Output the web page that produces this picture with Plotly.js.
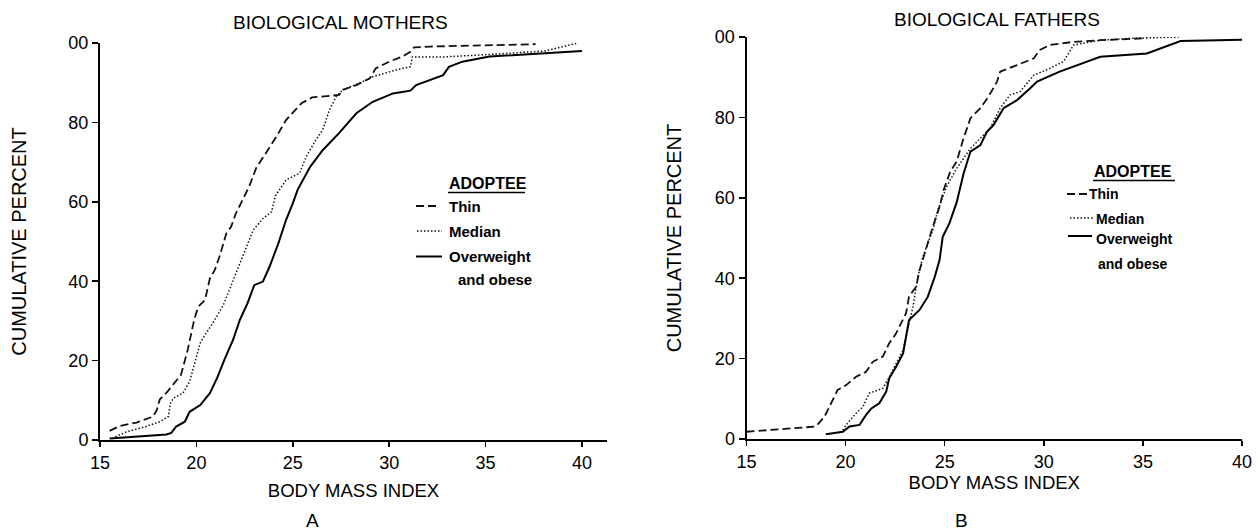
<!DOCTYPE html>
<html>
<head>
<meta charset="utf-8">
<script src="https://cdn.plot.ly/plotly-3.0.1.min.js"></script>
<style>html,body{margin:0;padding:0;background:#fff;}#chart{width:1260px;height:532px;}</style>
</head>
<body>
<div id="chart"></div>
<script>
// ---- Data ----
// Panel A: Biological mothers, cumulative percent by BMI
const mothersThinBMI = [15.5, 16.0, 16.9, 17.75, 17.95, 18.1, 18.5, 19.2, 19.55, 19.9, 20.1, 20.45, 20.7, 20.95, 21.2, 21.55, 21.8, 22.05, 22.4, 22.75, 23.1, 23.6, 24.15, 24.65, 25.0, 25.45, 26.0, 27.4, 27.6, 28.3, 29.0, 29.3, 30.0, 30.7, 31.1, 31.3, 32.1, 37.6];
const mothersThinPct = [2.3, 3.5, 4.4, 5.9, 7.6, 10.2, 12.2, 16.4, 22.7, 30.6, 33.6, 35.3, 40.7, 42.8, 46.2, 52.0, 53.7, 57.1, 60.5, 64.0, 68.5, 72.2, 76.4, 80.6, 82.5, 84.8, 86.3, 86.9, 88.2, 89.4, 91.1, 93.6, 95.3, 96.6, 97.8, 98.9, 99.1, 99.7];

const mothersMedianBMI = [15.8, 16.4, 17.25, 18.1, 18.55, 18.65, 18.8, 19.3, 19.65, 19.9, 20.2, 20.5, 20.85, 21.4, 21.9, 22.4, 22.95, 23.45, 23.9, 24.1, 24.65, 25.35, 25.7, 26.2, 26.55, 26.9, 27.25, 27.6, 28.6, 29.15, 30.35, 31.1, 31.2, 32.9, 35.5, 38.1, 39.7];
const mothersMedianPct = [0.8, 2.1, 3.2, 4.6, 5.9, 9.2, 10.5, 11.8, 14.7, 19.3, 24.4, 26.9, 29.4, 34.0, 40.3, 46.2, 52.9, 55.8, 57.5, 61.5, 65.5, 67.2, 71.4, 75.6, 78.1, 83.1, 86.5, 88.2, 90.2, 91.5, 93.2, 94.0, 96.5, 96.5, 97.2, 98.0, 99.9];

const mothersOverBMI = [15.5, 16.7, 18.45, 18.7, 18.95, 19.4, 19.65, 20.2, 20.7, 21.1, 21.45, 21.9, 22.25, 22.65, 23.0, 23.45, 23.8, 24.25, 24.65, 25.0, 25.25, 25.9, 26.55, 27.4, 28.3, 29.15, 30.2, 31.1, 31.4, 32.8, 33.1, 33.8, 35.2, 40.0];
const mothersOverPct = [0.4, 0.8, 1.4, 1.8, 3.4, 4.6, 7.1, 8.8, 11.8, 15.9, 20.2, 25.2, 30.2, 34.4, 39.0, 39.9, 43.7, 49.5, 55.4, 59.6, 63.0, 68.8, 73.0, 77.3, 82.3, 85.2, 87.3, 88.0, 89.4, 91.9, 94.0, 95.3, 96.6, 98.0];

// Panel B: Biological fathers
const fathersThinBMI = [15.0, 18.5, 18.93, 19.27, 19.6, 20.03, 20.53, 21.03, 21.37, 21.88, 22.2, 22.55, 23.05, 23.2, 23.56, 23.73, 24.07, 24.4, 24.74, 24.95, 25.28, 25.6, 25.95, 26.3, 26.8, 27.2, 27.64, 27.8, 28.65, 29.5, 29.8, 30.3, 31.5, 32.85, 35.2];
const fathersThinPct = [1.8, 3.1, 5.5, 8.9, 12.2, 13.4, 15.5, 16.7, 19.2, 20.5, 23.8, 26.3, 31.3, 35.4, 37.9, 42.0, 47.8, 52.8, 57.8, 62.0, 66.5, 69.0, 74.8, 79.8, 82.3, 85.1, 88.9, 91.4, 93.0, 94.7, 96.8, 98.0, 98.8, 99.2, 99.7];

const fathersMedianBMI = [19.86, 20.03, 20.53, 20.87, 21.2, 21.88, 22.13, 22.46, 22.9, 23.2, 23.4, 23.65, 23.9, 24.15, 24.4, 24.66, 25.08, 25.6, 26.3, 26.8, 27.3, 27.8, 28.3, 28.8, 29.5, 30.3, 31.0, 31.5, 32.85, 34.5, 36.9];
const fathersMedianPct = [2.2, 3.5, 6.4, 8.0, 11.4, 12.6, 14.7, 18.0, 22.1, 28.8, 32.9, 40.4, 45.3, 48.7, 52.0, 57.0, 62.6, 67.3, 72.3, 74.8, 77.3, 82.3, 85.6, 86.4, 90.5, 92.2, 93.9, 98.0, 99.2, 99.7, 100];

const fathersOverBMI = [19.0, 19.86, 20.2, 20.7, 21.03, 21.3, 21.7, 22.05, 22.2, 22.55, 22.9, 23.2, 23.73, 24.15, 24.5, 24.74, 24.9, 25.24, 25.6, 25.95, 26.3, 26.8, 27.13, 27.46, 27.97, 28.65, 29.3, 29.66, 30.8, 32.85, 35.2, 36.9, 40.0];
const fathersOverPct = [1.2, 1.8, 3.1, 3.5, 6.0, 7.6, 8.9, 11.8, 15.1, 18.0, 21.3, 29.6, 32.1, 35.4, 40.4, 44.5, 50.3, 53.7, 58.8, 66.0, 71.5, 73.1, 76.4, 78.1, 82.3, 84.3, 87.2, 88.9, 91.4, 95.1, 95.9, 99.0, 99.3];

// Tick labels
const xTickVals = [15, 20, 25, 30, 35, 40];
const xTickText = ['15', '20', '25', '30', '35', '40'];
const yTickVals = [0, 20, 40, 60, 80, 100];
const yTickText = ['0', '20', '40', '60', '80', '00'];

// Texts
const panelTitles = ['BIOLOGICAL MOTHERS', 'BIOLOGICAL FATHERS'];
const panelLetters = ['A', 'B'];
const xTitle = 'BODY MASS INDEX';
const yTitle = 'CUMULATIVE PERCENT';
const legendHeader = 'ADOPTEE';
const seriesNames = ['Thin', 'Median', 'Overweight', 'and obese'];

// ---- Styles ----
const FONT = '"Liberation Sans", Arial, Helvetica, sans-serif';
const styles = {
  thin: {color: '#111', width: 1.8, dash: '8px,4px'},
  median: {color: '#111', width: 1.5, dash: '1.5px,2px'},
  over: {color: '#000', width: 2}
};

function trace(x, y, style, name, xa, ya) {
  return {x: x, y: y, type: 'scatter', mode: 'lines', name: name, line: style, xaxis: xa, yaxis: ya, hoverinfo: 'skip'};
}

const data = [
  trace(mothersThinBMI, mothersThinPct, styles.thin, 'Thin', 'x', 'y'),
  trace(mothersMedianBMI, mothersMedianPct, styles.median, 'Median', 'x', 'y'),
  trace(mothersOverBMI, mothersOverPct, styles.over, 'Overweight and obese', 'x', 'y'),
  trace(fathersThinBMI, fathersThinPct, styles.thin, 'Thin', 'x2', 'y2'),
  trace(fathersMedianBMI, fathersMedianPct, styles.median, 'Median', 'x2', 'y2'),
  trace(fathersOverBMI, fathersOverPct, styles.over, 'Overweight and obese', 'x2', 'y2')
];

const W = 1260, H = 532;
const px = v => v / W;
const py = v => 1 - v / H;

function xAxis(domain, range, standoff) {
  return {
    domain: domain, range: range, tickvals: xTickVals, ticktext: xTickText,
    showline: true, linecolor: '#000', linewidth: 2, mirror: false,
    ticks: 'outside', ticklen: 5, tickwidth: 1.5, tickcolor: '#000',
    tickfont: {family: FONT, size: 18, color: '#000'},
    showgrid: false, zeroline: false, fixedrange: true,
    title: {text: xTitle, font: {family: FONT, size: 18.5, color: '#000'}, standoff: standoff}
  };
}
function yAxis(domain, standoff) {
  return {
    domain: domain, range: [0, 100], tickvals: yTickVals, ticktext: yTickText,
    showline: true, linecolor: '#000', linewidth: 2,
    ticks: 'outside', ticklen: 6, tickwidth: 1.5, tickcolor: '#000',
    tickfont: {family: FONT, size: 18, color: '#000'},
    showgrid: false, zeroline: false, fixedrange: true,
    title: {text: yTitle, font: {family: FONT, size: 20, color: '#000'}, standoff: standoff}
  };
}

function ann(text, x, y, size, opts) {
  return Object.assign({text: text, x: px(x), y: py(y), xref: 'paper', yref: 'paper',
    showarrow: false, xanchor: 'left', yanchor: 'middle',
    font: {family: FONT, size: size, color: '#000'}}, opts || {});
}
function seg(x0, x1, y, style) {
  return {type: 'line', xref: 'paper', yref: 'paper', x0: px(x0), x1: px(x1), y0: py(y), y1: py(y),
    line: {color: style.color, width: style.width, dash: style.dash || 'solid'}};
}

const annotations = [
  ann(panelTitles[0], 340, 22.5, 19, {xanchor: 'center'}),
  ann(panelTitles[1], 996.7, 19.5, 19, {xanchor: 'center'}),
  ann(panelLetters[0], 312.5, 520, 19, {xanchor: 'center'}),
  ann(panelLetters[1], 962, 520, 19, {xanchor: 'center'}),
  // Legend A
  ann('<b>' + legendHeader + '</b>', 447, 183.5, 16),
  ann('<b>' + seriesNames[0] + '</b>', 447, 206.5, 15),
  ann('<b>' + seriesNames[1] + '</b>', 447, 231, 15),
  ann('<b>' + seriesNames[2] + '</b>', 447, 257, 15),
  ann('<b>' + seriesNames[3] + '</b>', 456, 279, 15),
  // Legend B
  ann('<b>' + legendHeader + '</b>', 1092, 171.5, 16),
  ann('<b>' + seriesNames[0] + '</b>', 1087, 194, 14),
  ann('<b>' + seriesNames[1] + '</b>', 1094, 218.5, 14),
  ann('<b>' + seriesNames[2] + '</b>', 1094, 239, 14),
  ann('<b>' + seriesNames[3] + '</b>', 1096, 263.5, 14)
];

const shapes = [
  seg(448, 525, 192.5, {color: '#000', width: 1.5}),
  seg(416, 440, 206, styles.thin),
  seg(417, 442, 231, styles.median),
  seg(416, 442, 256.5, styles.over),
  seg(1093, 1175, 180.5, {color: '#000', width: 1.5}),
  seg(1067, 1087, 194, styles.thin),
  seg(1070, 1093, 218, styles.median),
  seg(1068, 1092, 236, styles.over)
];

const layout = {
  width: W, height: H,
  margin: {l: 0, r: 0, t: 0, b: 0, pad: 0},
  paper_bgcolor: '#fff', plot_bgcolor: '#fff',
  showlegend: false,
  font: {family: FONT, color: '#000'},
  xaxis: Object.assign(xAxis([px(100), px(607)], [15, 41.3], 12), {anchor: 'y'}),
  yaxis: Object.assign(yAxis([1 - 440 / H, 1 - 43 / H], 36), {anchor: 'x'}),
  xaxis2: Object.assign(xAxis([px(746.5), px(1242)], [15, 40], 3), {anchor: 'y2'}),
  yaxis2: Object.assign(yAxis([1 - 439 / H, 1 - 37 / H], 28), {anchor: 'x2'}),
  annotations: annotations,
  shapes: shapes
};

Plotly.newPlot('chart', data, layout, {staticPlot: true, displayModeBar: false});
</script>
</body>
</html>
